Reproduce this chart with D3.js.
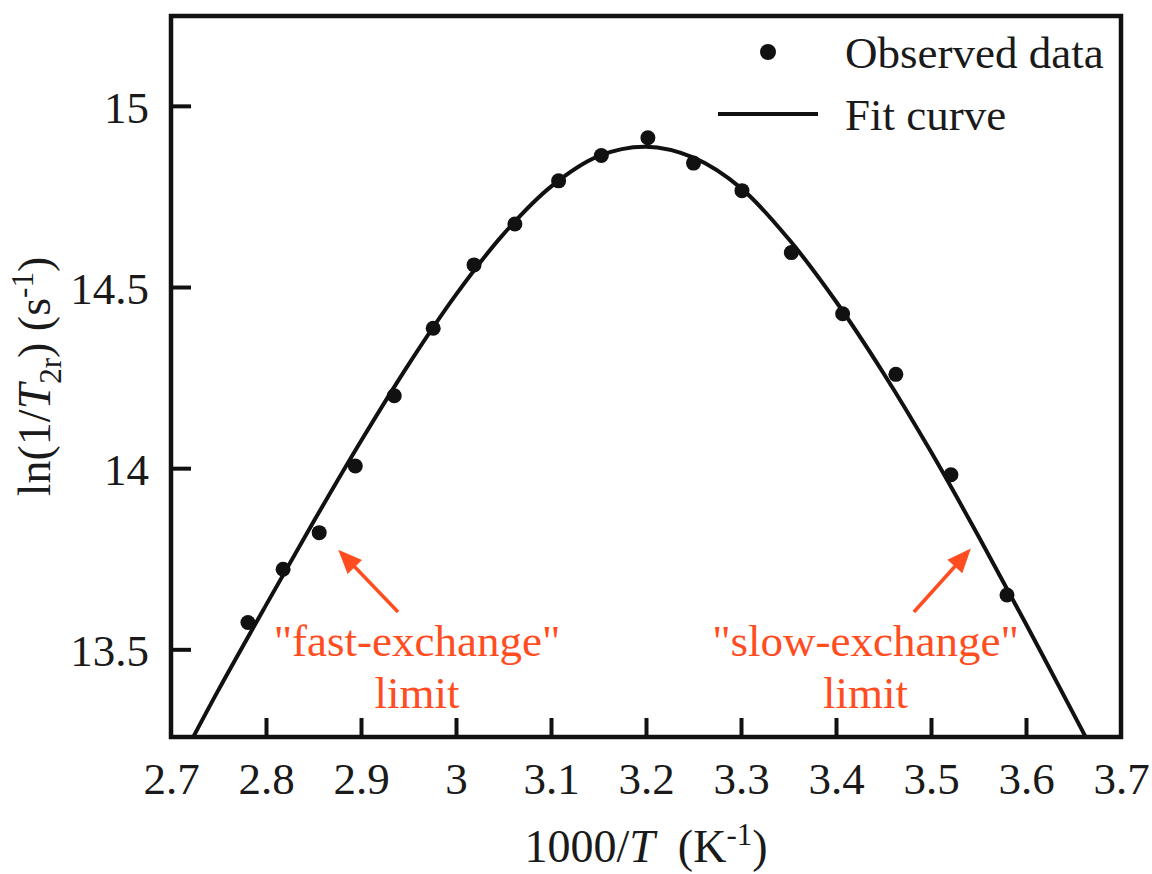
<!DOCTYPE html>
<html>
<head>
<meta charset="utf-8">
<script src="https://cdn.jsdelivr.net/npm/d3@7"></script>
<style>
  body { margin: 0; background: #fff; }
  svg text { font-family: "Liberation Serif", "Times New Roman", serif; fill: #1a1a1a; }
</style>
</head>
<body>
<svg id="chart" width="1152" height="874"></svg>
<script>
// observed points, 1000/T (K^-1) and ln(1/T2r) (s^-1)
const obsX = [2.781, 2.818, 2.856, 2.894, 2.935, 2.976, 3.019, 3.062, 3.108,
              3.153, 3.202, 3.250, 3.301, 3.353, 3.407, 3.463, 3.521, 3.580];
const obsY = [13.574, 13.721, 13.822, 14.006, 14.200, 14.386, 14.561, 14.674, 14.793,
              14.863, 14.912, 14.842, 14.766, 14.595, 14.426, 14.259, 13.982, 13.650];

// fit curve
const fitX = [2.72, 2.75, 2.80, 2.85, 2.90, 2.95, 3.00, 3.05, 3.10, 3.15, 3.20,
              3.25, 3.30, 3.35, 3.40, 3.45, 3.50, 3.55, 3.60, 3.65, 3.67];
const fitY = [13.241, 13.388, 13.622, 13.852, 14.075, 14.286, 14.479, 14.646, 14.777, 14.861, 14.887,
              14.857, 14.773, 14.633, 14.460, 14.262, 14.045, 13.812, 13.570, 13.322, 13.222];

const xTicks = [2.7, 2.8, 2.9, 3.0, 3.1, 3.2, 3.3, 3.4, 3.5, 3.6, 3.7];
const yTicks = [13.5, 14, 14.5, 15];

const legendLabels = ["Observed data", "Fit curve"];
const noteLines = [['"fast-exchange"', 'limit'], ['"slow-exchange"', 'limit']];

const red = "#ff4d1f";
const svg = d3.select("#chart"),
      margin = {top: 16, right: 31, bottom: 137, left: 171},
      width  = +svg.attr("width")  - margin.left - margin.right,
      height = +svg.attr("height") - margin.top  - margin.bottom,
      x = d3.scaleLinear().domain([2.7, 3.7]).range([0, width]),
      y = d3.scaleLinear().domain([13.258, 15.248]).range([height, 0]),
      g = svg.append("g").attr("transform", `translate(${margin.left},${margin.top})`);

svg.append("defs").append("clipPath").attr("id", "plotclip")
  .append("rect").attr("width", width).attr("height", height);

// axes, ticks point inward
const xAxis = g.append("g")
  .attr("transform", `translate(0,${height})`)
  .call(d3.axisBottom(x).tickValues(xTicks).tickFormat(d => String(+d.toFixed(1)))
        .tickSizeInner(-19).tickSizeOuter(0).tickPadding(25));
xAxis.select(".domain").remove();
xAxis.selectAll(".tick line").attr("stroke", "#111").attr("stroke-width", 4)
  .filter(d => d === 2.7 || d === 3.7).remove();
xAxis.selectAll(".tick text").style("font-size", "45px").attr("fill", "#1a1a1a");

const yAxis = g.append("g")
  .call(d3.axisLeft(y).tickValues(yTicks).tickFormat(d => String(d))
        .tickSizeInner(-20).tickSizeOuter(0).tickPadding(22));
yAxis.select(".domain").remove();
yAxis.selectAll(".tick line").attr("stroke", "#111").attr("stroke-width", 4);
yAxis.selectAll(".tick text").style("font-size", "45px").attr("fill", "#1a1a1a").attr("dy", "0.36em");

// fit curve
const fit = fitX.map((v, i) => [v, fitY[i]]);
g.append("path")
  .datum(fit)
  .attr("clip-path", "url(#plotclip)")
  .attr("fill", "none")
  .attr("stroke", "#111")
  .attr("stroke-width", 4)
  .attr("d", d3.line().x(d => x(d[0])).y(d => y(d[1])).curve(d3.curveCatmullRom.alpha(0.5)));

// observed points
g.selectAll(".dot")
  .data(obsX.map((v, i) => [v, obsY[i]]))
  .enter().append("circle")
    .attr("class", "dot")
    .attr("cx", d => x(d[0]))
    .attr("cy", d => y(d[1]))
    .attr("r", 7.5)
    .attr("fill", "#111");

// frame
g.append("rect")
  .attr("width", width).attr("height", height)
  .attr("fill", "none").attr("stroke", "#111").attr("stroke-width", 4.5);

// legend
const leg = g.append("g").attr("transform", `translate(${width - 403},0)`);
leg.append("circle").attr("cx", 50).attr("cy", 36).attr("r", 8).attr("fill", "#111");
leg.append("line").attr("x1", 0).attr("x2", 100).attr("y1", 98).attr("y2", 98)
  .attr("stroke", "#111").attr("stroke-width", 4);
leg.selectAll("text.leg")
  .data(legendLabels)
  .enter().append("text")
    .attr("class", "leg")
    .attr("x", 127)
    .attr("y", (d, i) => 52 + i * 62)
    .style("font-size", "45px")
    .text(d => d);

// annotations (data coordinates)
const notes = [
  {cx: 2.959, tail: [2.939, 13.603], tip: [2.876, 13.775]},
  {cx: 3.431, tail: [3.482, 13.603], tip: [3.542, 13.778]}
];
notes.forEach((n, k) => {
  const x0 = x(n.tail[0]), y0 = y(n.tail[1]), x1 = x(n.tip[0]), y1 = y(n.tip[1]);
  const ang = Math.atan2(y1 - y0, x1 - x0), hl = 24, hw = 10;
  const bx = x1 - hl * Math.cos(ang), by = y1 - hl * Math.sin(ang);
  g.append("line").attr("x1", x0).attr("y1", y0).attr("x2", bx + 2 * Math.cos(ang)).attr("y2", by + 2 * Math.sin(ang))
    .attr("stroke", red).attr("stroke-width", 3.5);
  g.append("path")
    .attr("d", `M${x1},${y1}L${bx - hw * Math.sin(ang)},${by + hw * Math.cos(ang)}L${bx + hw * Math.sin(ang)},${by - hw * Math.cos(ang)}Z`)
    .attr("fill", red);
  g.selectAll(null)
    .data(noteLines[k])
    .enter().append("text")
      .attr("x", x(n.cx))
      .attr("y", (d, i) => 640 + i * 52)
      .attr("text-anchor", "middle")
      .style("font-size", "45px")
      .style("fill", red)
      .text(d => d);
});

// axis titles
const xt = svg.append("text")
  .attr("x", margin.left + width / 2).attr("y", 862)
  .attr("text-anchor", "middle")
  .style("font-size", "46px")
  .style("white-space", "pre");
xt.append("tspan").text("1000/");
xt.append("tspan").style("font-style", "italic").text("T");
xt.append("tspan").text("  (K");
xt.append("tspan").attr("dy", -17).style("font-size", "31px").text("-1");
xt.append("tspan").attr("dy", 17).text(")");

const yt = svg.append("text")
  .attr("transform", `translate(50,${margin.top + height / 2}) rotate(-90)`)
  .attr("text-anchor", "middle")
  .style("font-size", "46px")
  .style("white-space", "pre");
yt.append("tspan").text("ln(1/");
yt.append("tspan").style("font-style", "italic").text("T");
yt.append("tspan").attr("dy", 11).style("font-size", "31px").text("2r");
yt.append("tspan").attr("dy", -11).text(") (s");
yt.append("tspan").attr("dy", -17).style("font-size", "31px").text("-1");
yt.append("tspan").attr("dy", 17).text(")");
</script>
</body>
</html>
